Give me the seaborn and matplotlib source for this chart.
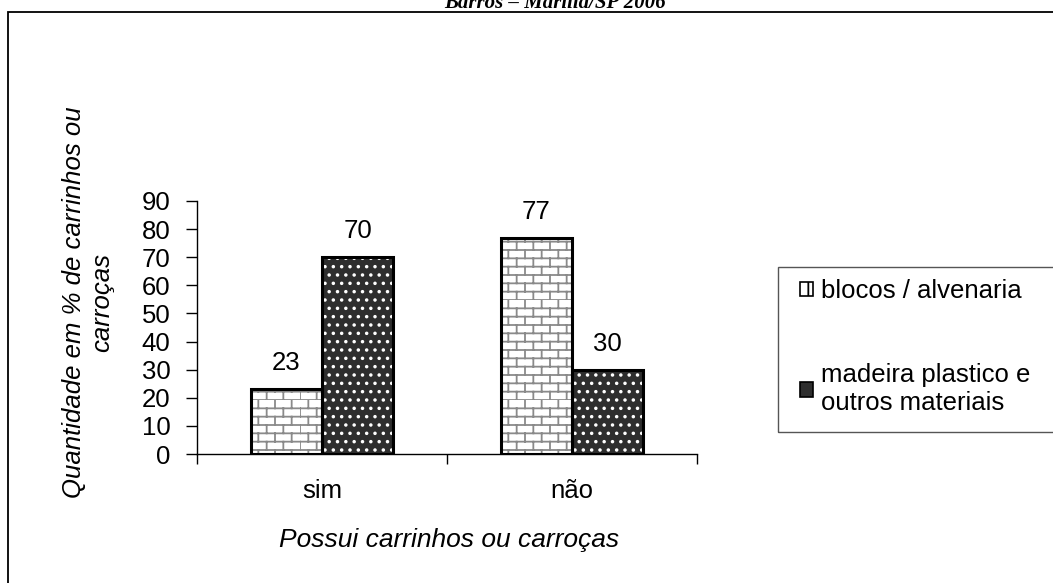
import warnings
import numpy as np
import pandas as pd
import matplotlib
matplotlib.use("Agg")
import matplotlib.pyplot as plt
import matplotlib.hatch as mhatch
from matplotlib.path import Path
from matplotlib.patches import Patch, Rectangle
import seaborn as sns

warnings.filterwarnings("ignore")

# ---- data ----
categories = ["sim", "não"]
series_names = ["blocos / alvenaria", "madeira plastico e\noutros materiais"]
blocos_values = [23, 77]
madeira_values = [70, 30]
y_ticks = [0, 10, 20, 30, 40, 50, 60, 70, 80, 90]
title_text = "Barros – Marília/SP 2006"
x_label = "Possui carrinhos ou carroças"
y_label = "Quantidade em % de carrinhos ou\ncarroças"


# ---- custom brick hatch ----
class BrickHatch(mhatch.HatchPatternBase):
    def __init__(self, hatch, density):
        self.n_rows = hatch.count("B") * 12
        self.n_cols = self.n_rows // 2
        self.num_vertices = self.n_rows * (2 + 2 * self.n_cols)

    def set_vertices_and_codes(self, vertices, codes):
        idx = 0
        n, m = self.n_rows, self.n_cols
        for i in range(n):
            y = i / n
            vertices[idx] = (0.0, y)
            vertices[idx + 1] = (1.0, y)
            codes[idx] = Path.MOVETO
            codes[idx + 1] = Path.LINETO
            idx += 2
            off = 0.0 if i % 2 == 0 else 0.5
            for k in range(m):
                x = (k + off) / m
                vertices[idx] = (x, y)
                vertices[idx + 1] = (x, y + 1.0 / n)
                codes[idx] = Path.MOVETO
                codes[idx + 1] = Path.LINETO
                idx += 2


mhatch._hatch_types.append(BrickHatch)

sns.set_theme(style="white")
plt.rcParams["font.family"] = ["Liberation Sans", "DejaVu Sans"]
plt.rcParams["hatch.linewidth"] = 1.3

FS = 18.5

df = pd.DataFrame({
    "cat": categories * 2,
    "serie": [series_names[0]] * 2 + [series_names[1]] * 2,
    "val": blocos_values + madeira_values,
})

W, H = 1053, 583
fig = plt.figure(figsize=(W / 100, H / 100), dpi=100)
fig.patch.set_facecolor("white")
ax = fig.add_axes([197 / W, 1 - 454 / H, 500 / W, 253 / H])

sns.barplot(data=df, x="cat", y="val", hue="serie", order=categories,
            hue_order=series_names, width=0.57, ax=ax, legend=False,
            errorbar=None, saturation=1)

styles = [
    dict(face="white", hatch="B", hcol="#8a8a8a"),
    dict(face="#2e2e2e", hatch="..", hcol="white"),
]
for cont, st in zip(ax.containers, styles):
    for p in cont:
        p.set_facecolor(st["face"])
        p.set_hatch(st["hatch"])
        p.set_edgecolor(st["hcol"])
        p.set_linewidth(0)
        ax.add_patch(Rectangle(p.get_xy(), p.get_width(), p.get_height(),
                               fill=False, edgecolor="black", linewidth=2.2,
                               zorder=p.get_zorder() + 0.1))
    ax.bar_label(cont, padding=10, fontsize=FS, color="black")

ax.set_ylim(0, 90)
ax.set_xlim(-0.5, 1.5)
ax.set_yticks(y_ticks)
ax.set_xticks([-0.5, 0.5, 1.5], minor=True)
ax.tick_params(axis="y", labelsize=FS, length=8, width=1, color="black",
               direction="out", left=True, pad=11, labelcolor="black")
ax.tick_params(axis="x", which="major", labelsize=FS, length=0, pad=18,
               labelcolor="black")
ax.tick_params(axis="x", which="minor", length=7, width=1, color="black",
               direction="out", bottom=True)
ax.set_xlabel("")
ax.set_ylabel("")
for s in ["top", "right"]:
    ax.spines[s].set_visible(False)
for s in ["left", "bottom"]:
    ax.spines[s].set_color("black")
    ax.spines[s].set_linewidth(1)
ax.set_facecolor("white")

# axis titles
fig.text(449 / W, 1 - 540 / H, x_label, ha="center", va="center",
         style="italic", fontsize=FS + 0.5, color="black")
fig.text(88 / W, 1 - 302 / H, y_label, ha="center", va="center",
         rotation=90, style="italic", fontsize=FS, color="black",
         multialignment="center", linespacing=1.2)

# cropped title at top (cut by the image edge as in the source)
fig.text(555 / W, 1 - 8 / H, title_text, ha="center", va="baseline",
         family="Liberation Serif", style="italic", weight="bold",
         fontsize=15, color="black")

# outer chart border (cropped on right and bottom)
fig.add_artist(Rectangle((8 / W, -0.05), 1.2, (1 - 12 / H) + 0.05,
                         transform=fig.transFigure, fill=False,
                         edgecolor="black", linewidth=1.3, clip_on=False))

# legend box
fig.add_artist(Rectangle((778 / W, 1 - 432 / H), 0.4, 165 / H,
                         transform=fig.transFigure, fill=False,
                         edgecolor="#555555", linewidth=1, clip_on=False))

handles = [
    Patch(facecolor="white", edgecolor="black", hatch="|", linewidth=1.2),
    Patch(facecolor="#2e2e2e", edgecolor="black", linewidth=1.2),
]
leg = fig.legend(handles, series_names, loc="upper left",
                 bbox_to_anchor=(800 / W, 1 - 279 / H), frameon=False,
                 fontsize=FS, handlelength=0.5, handleheight=0.5,
                 handletextpad=0.3, labelspacing=2.35, borderpad=0,
                 borderaxespad=0)
for t in leg.get_texts():
    t.set_color("black")

fig.savefig("out.png", dpi=100, facecolor="white")
